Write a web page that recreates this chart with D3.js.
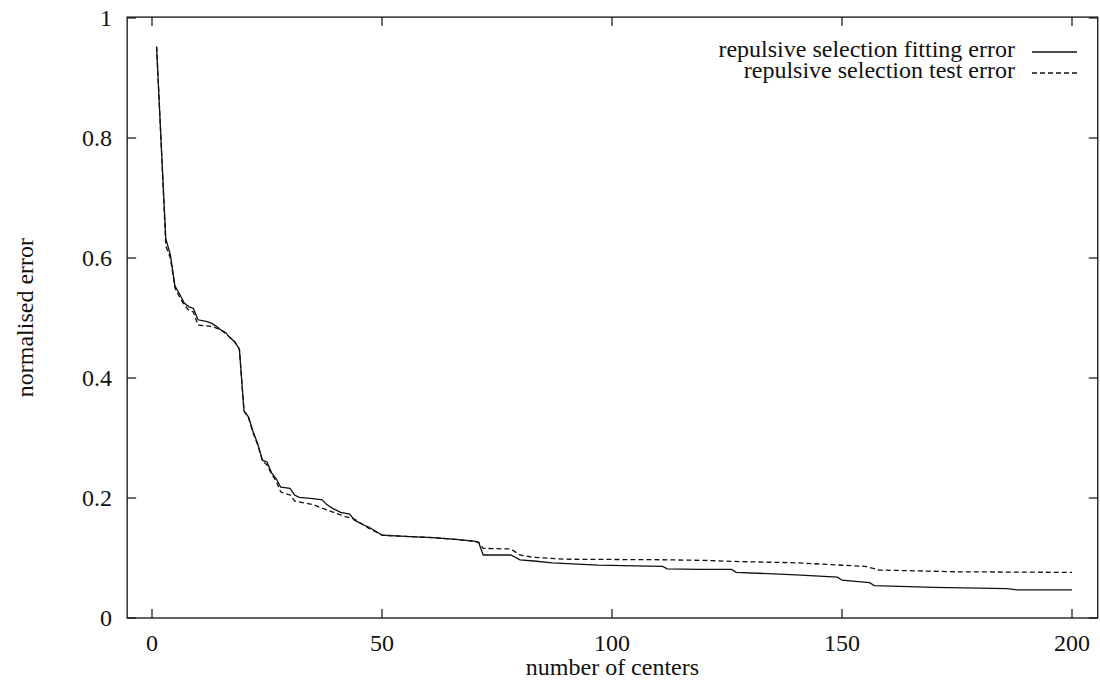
<!DOCTYPE html>
<html>
<head>
<meta charset="utf-8">
<script src="https://cdn.jsdelivr.net/npm/d3@7"></script>
<style>
  body { margin: 0; background: #fff; }
</style>
</head>
<body>
<svg id="chart" width="1100" height="683"></svg>
<script>
// values
const fitCenters = [1, 2, 3, 4, 5, 6, 7, 8, 9, 10, 12, 13, 14, 15, 16, 17, 18, 19, 20, 21, 22, 23, 24, 25, 26, 27, 28, 30, 31, 32, 35, 37, 38, 39, 41, 43, 44, 46, 47, 49, 50, 55, 61, 66, 70, 71, 72, 78, 80, 83, 87, 97, 105, 111, 112, 119, 126, 127, 140, 149, 150, 156, 157, 170, 186, 188, 200];
const fitError = [0.952, 0.79, 0.632, 0.605, 0.553, 0.540, 0.525, 0.519, 0.516, 0.497, 0.494, 0.491, 0.486, 0.480, 0.476, 0.467, 0.460, 0.448, 0.345, 0.335, 0.310, 0.290, 0.263, 0.260, 0.242, 0.232, 0.218, 0.216, 0.205, 0.201, 0.199, 0.197, 0.189, 0.184, 0.176, 0.173, 0.163, 0.155, 0.152, 0.143, 0.138, 0.136, 0.134, 0.131, 0.128, 0.126, 0.105, 0.105, 0.097, 0.095, 0.092, 0.088, 0.087, 0.086, 0.082, 0.081, 0.081, 0.076, 0.072, 0.068, 0.063, 0.059, 0.054, 0.051, 0.049, 0.047, 0.047];

const testCenters = [1, 2, 3, 4, 5, 6, 7, 8, 9, 10, 13, 15, 16, 17, 18, 19, 20, 21, 22, 23, 24, 25, 26, 27, 28, 30, 31, 35, 38, 41, 42, 44, 46, 47, 49, 50, 55, 61, 66, 70, 71, 72, 78, 80, 83, 90, 112, 120, 128, 140, 155, 158, 175, 200];
const testError = [0.952, 0.79, 0.620, 0.600, 0.550, 0.535, 0.522, 0.513, 0.510, 0.488, 0.486, 0.480, 0.474, 0.467, 0.460, 0.448, 0.345, 0.333, 0.308, 0.288, 0.262, 0.255, 0.240, 0.228, 0.210, 0.205, 0.195, 0.189, 0.180, 0.172, 0.169, 0.165, 0.155, 0.150, 0.142, 0.138, 0.136, 0.134, 0.131, 0.128, 0.126, 0.116, 0.115, 0.105, 0.101, 0.098, 0.097, 0.096, 0.094, 0.092, 0.086, 0.080, 0.077, 0.076];

const xTicks = [0, 50, 100, 150, 200];
const yTicks = [0, 0.2, 0.4, 0.6, 0.8, 1];
const yTickLabels = ["0", "0.2", "0.4", "0.6", "0.8", "1"];
const legendLabels = ["repulsive selection fitting error", "repulsive selection test error"];

const svg = d3.select("#chart")
    .attr("font-family", "'Liberation Serif', 'Times New Roman', 'DejaVu Serif', serif")
    .attr("fill", "#111");
const fontSize = 24;
const tickLen = 9;

const x = d3.scaleLinear().domain([0, 200]).range([152, 1072]);
const y = d3.scaleLinear().domain([0, 1]).range([618, 18]);

const frameLeft = x(-5.4), frameRight = x(205.6);
const frameTop = y(1.0015), frameBottom = y(0);

// frame
svg.append("rect")
    .attr("x", frameLeft).attr("y", frameTop)
    .attr("width", frameRight - frameLeft).attr("height", frameBottom - frameTop)
    .attr("fill", "none").attr("stroke", "#111").attr("stroke-width", 1.3);

// y ticks, both sides, pointing inwards
yTicks.forEach((t, i) => {
    svg.append("line").attr("x1", frameLeft).attr("x2", frameLeft + tickLen)
        .attr("y1", y(t)).attr("y2", y(t)).attr("stroke", "#111").attr("stroke-width", 1.2);
    svg.append("line").attr("x1", frameRight).attr("x2", frameRight - tickLen)
        .attr("y1", y(t)).attr("y2", y(t)).attr("stroke", "#111").attr("stroke-width", 1.2);
    svg.append("text")
        .attr("x", 112).attr("y", y(t) + 8)
        .attr("text-anchor", "end")
        .attr("font-size", fontSize)
        .text(yTickLabels[i]);
});

// x ticks, bottom and top
xTicks.forEach(t => {
    svg.append("line").attr("x1", x(t)).attr("x2", x(t))
        .attr("y1", frameBottom).attr("y2", frameBottom - tickLen).attr("stroke", "#111").attr("stroke-width", 1.2);
    svg.append("line").attr("x1", x(t)).attr("x2", x(t))
        .attr("y1", frameTop).attr("y2", frameTop + tickLen).attr("stroke", "#111").attr("stroke-width", 1.2);
    svg.append("text")
        .attr("x", x(t)).attr("y", 651)
        .attr("text-anchor", "middle")
        .attr("font-size", fontSize)
        .text(t);
});

// axis titles
svg.append("text")
    .attr("x", (frameLeft + frameRight) / 2).attr("y", 675)
    .attr("text-anchor", "middle")
    .attr("font-size", fontSize)
    .text("number of centers");

svg.append("text")
    .attr("transform", `translate(33,${(frameTop + frameBottom) / 2}) rotate(-90)`)
    .attr("text-anchor", "middle")
    .attr("font-size", fontSize)
    .text("normalised error");

// curves
const line = d3.line()
    .x(d => x(d[0]))
    .y(d => y(d[1]));

const fitData = fitCenters.map((c, i) => [c, fitError[i]]);
const testData = testCenters.map((c, i) => [c, testError[i]]);

svg.append("path")
    .datum(testData)
    .attr("d", line)
    .attr("fill", "none")
    .attr("stroke", "#111")
    .attr("stroke-width", 1.3)
    .attr("stroke-dasharray", "5,3");

svg.append("path")
    .datum(fitData)
    .attr("d", line)
    .attr("fill", "none")
    .attr("stroke", "#111")
    .attr("stroke-width", 1.3);

// legend
const dashes = [null, "5,3"];
legendLabels.forEach((lab, i) => {
    const ly = 52 + i * 21;
    svg.append("text")
        .attr("x", 1015).attr("y", ly + 5)
        .attr("text-anchor", "end")
        .attr("font-size", fontSize)
        .text(lab);
    svg.append("line")
        .attr("x1", 1032).attr("x2", 1077)
        .attr("y1", ly).attr("y2", ly)
        .attr("stroke", "#111").attr("stroke-width", 1.3)
        .attr("stroke-dasharray", dashes[i]);
});
</script>
</body>
</html>
